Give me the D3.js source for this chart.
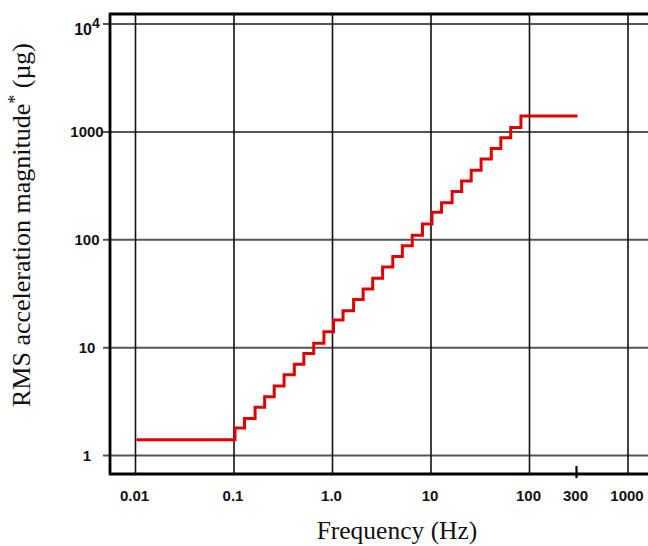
<!DOCTYPE html>
<html><head><meta charset="utf-8">
<script src="https://cdn.jsdelivr.net/npm/d3@7"></script>
<style>html,body{margin:0;padding:0;background:#fff;}</style>
</head><body>
<svg id="c" width="648" height="546"></svg>
<script>
// Band edges (Hz) and RMS acceleration value (µg) in each band
const bandEdges = [0.01, 0.1, 0.125, 0.16, 0.2, 0.25, 0.315, 0.4, 0.5, 0.63, 0.8, 1, 1.25, 1.6, 2, 2.5, 3.15, 4, 5, 6.3, 8, 10, 12.5, 16, 20, 25, 31.5, 40, 50, 63, 80, 300];
const bandValues = [1.4, 1.8, 2.2, 2.8, 3.5, 4.4, 5.6, 7, 8.8, 11, 14, 18, 22, 28, 35, 44, 56, 70, 88, 110, 140, 180, 220, 280, 350, 440, 560, 700, 880, 1100, 1400];
const xGridTicks = [0.01, 0.1, 1, 10, 100, 1000];
const xLabelTicks = [0.01, 0.1, 1, 10, 100, 300, 1000];
const xLabelTexts = ["0.01", "0.1", "1.0", "10", "100", "300", "1000"];
const yTicks = [1, 10, 100, 1000, 10000];
const yLabelTexts = ["1", "10", "100", "1000", "10^4"];

(function () {
const svg = d3.select("#c");
const x = d3.scaleLog().domain([0.01, 1000]).range([135.5, 628]);
const y = d3.scaleLog().domain([1, 10000]).range([455.5, 24]);
const pL = 110, pT = 14, pB = 474, pR = 648;

// grid: horizontal
svg.append("g").selectAll("line").data(yTicks).join("line")
  .attr("x1", pL - 7).attr("x2", pR)
  .attr("y1", d => y(d)).attr("y2", d => y(d))
  .attr("stroke", "#555").attr("stroke-width", 2);
// grid: vertical
svg.append("g").selectAll("line").data(xGridTicks).join("line")
  .attr("x1", d => x(d)).attr("x2", d => x(d))
  .attr("y1", pT).attr("y2", pB)
  .attr("stroke", "#111").attr("stroke-width", 1.6);

// frame
svg.append("line").attr("x1", pL).attr("x2", pL).attr("y1", pT - 1.3).attr("y2", pB + 1.3)
  .attr("stroke", "#000").attr("stroke-width", 2.8);
svg.append("line").attr("x1", pL).attr("x2", pR).attr("y1", pT).attr("y2", pT)
  .attr("stroke", "#000").attr("stroke-width", 2.8);
svg.append("line").attr("x1", pL).attr("x2", pR).attr("y1", pB).attr("y2", pB)
  .attr("stroke", "#000").attr("stroke-width", 2.8);
// 300 Hz tick
svg.append("line").attr("x1", x(300)).attr("x2", x(300)).attr("y1", pB - 8).attr("y2", pB + 4)
  .attr("stroke", "#000").attr("stroke-width", 2.2);

// step curve
const pts = [];
bandValues.forEach((v, i) => { pts.push([bandEdges[i], v]); pts.push([bandEdges[i + 1], v]); });
const line = d3.line().x(d => x(d[0]) + 1).y(d => y(d[1]));
svg.append("path").attr("d", line(pts)).attr("fill", "none")
  .attr("stroke", "#e00000").attr("stroke-width", 3).attr("stroke-linejoin", "miter");

// x labels
svg.append("g").selectAll("text").data(xLabelTicks).join("text")
  .attr("x", d => x(d) - 1).attr("y", 501)
  .attr("text-anchor", "middle")
  .attr("font-family", "Liberation Sans, Arial, sans-serif").attr("font-weight", "bold")
  .attr("font-size", 15).attr("fill", "#111")
  .text((d, i) => xLabelTexts[i]);

// y labels
const yl = svg.append("g");
yTicks.forEach((d, i) => {
  const t = yl.append("text")
    .attr("x", 87).attr("y", y(d) + (d === 10000 ? 11 : 5.5))
    .attr("text-anchor", "middle")
    .attr("font-family", "Liberation Sans, Arial, sans-serif").attr("font-weight", "bold")
    .attr("font-size", 15).attr("fill", "#111");
  const s = yLabelTexts[i];
  if (s.includes("^")) {
    const [b, e] = s.split("^");
    t.append("tspan").attr("font-size", 16).text(b);
    t.append("tspan").attr("dy", -7).attr("font-size", 14).text(e);
  } else t.text(s);
});

// axis titles
svg.append("text").attr("x", 397).attr("y", 539).attr("text-anchor", "middle")
  .attr("font-family", "Liberation Serif, Times New Roman, serif").attr("font-size", 25.5)
  .attr("fill", "#111").text("Frequency (Hz)");
const yt = svg.append("text").attr("transform", "translate(30,225) rotate(-90)")
  .attr("text-anchor", "middle")
  .attr("font-family", "Liberation Serif, Times New Roman, serif").attr("font-size", 26)
  .attr("fill", "#111");
yt.append("tspan").text("RMS acceleration magnitude");
yt.append("tspan").attr("dy", -9).attr("font-size", 18).text("*");
yt.append("tspan").attr("dy", 9).text(" (µg)");
})();
</script>
</body></html>
